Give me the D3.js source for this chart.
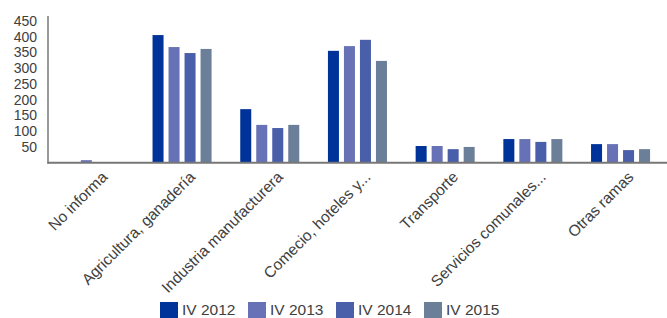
<!DOCTYPE html>
<meta charset="utf-8">
<script src="https://d3js.org/d3.v7.min.js"></script>
<style>
  body { margin: 0; background: #fff; }
  text { font-family: "Liberation Sans", Arial, sans-serif; fill: #404040; }
</style>
<div id="my_dataviz"></div>
<script>
// categories and series
const categories = ["No informa", "Agricultura, ganadería", "Industria manufacturera",
  "Comecio, hoteles y...", "Transporte", "Servicios comunales...", "Otras ramas"];
const seriesNames = ["IV 2012", "IV 2013", "IV 2014", "IV 2015"];
const iv2012 = [0, 405, 170, 355, 53, 75, 59];
const iv2013 = [8, 367, 120, 370, 53, 75, 59];
const iv2014 = [0, 348, 110, 390, 43, 66, 40];
const iv2015 = [0, 361, 120, 323, 50, 75, 43];
const yTicks = [50, 100, 150, 200, 250, 300, 350, 400, 450];
const colors = ["#003399", "#6771b5", "#4a5fa9", "#6b7f99"];

const width = 667, height = 318;
const baseY = 162.7;

const svg = d3.select("#my_dataviz")
  .append("svg")
    .attr("width", width)
    .attr("height", height);

const allSeries = [iv2012, iv2013, iv2014, iv2015];
const data = categories.map((c, i) => ({
  cat: c,
  vals: seriesNames.map((s, j) => ({series: s, idx: j, value: allSeries[j][i]}))
}));

// scales
const x0 = d3.scaleBand()
  .domain(categories)
  .range([50.5, 664.4])
  .paddingInner(0.327)
  .paddingOuter(0.1635);

const x1 = d3.scaleBand()
  .domain(seriesNames)
  .range([0, x0.bandwidth()])
  .paddingInner(0.3125)
  .paddingOuter(0);

const y = d3.scaleLinear()
  .domain([0, 450])
  .range([baseY, 20.9]);

// y axis labels
svg.append("g")
  .attr("transform", "translate(48,0)")
  .style("font-size", "14px")
  .call(d3.axisLeft(y).tickValues(yTicks).tickSize(0).tickPadding(11))
  .call(g => g.select(".domain").remove())
  .selectAll("text")
    .style("fill", "#404040")
    .style("font-family", "'Liberation Sans', Arial, sans-serif");

// bars
svg.append("g")
  .selectAll("g")
  .data(data)
  .join("g")
    .attr("transform", d => `translate(${x0(d.cat)},0)`)
  .selectAll("rect")
  .data(d => d.vals.filter(v => v.value > 0))
  .join("rect")
    .attr("x", d => x1(d.series))
    .attr("y", d => y(d.value))
    .attr("width", x1.bandwidth())
    .attr("height", d => baseY - y(d.value))
    .attr("fill", d => colors[d.idx]);

// axis lines
svg.append("line")
  .attr("x1", 48).attr("x2", 48)
  .attr("y1", 16).attr("y2", baseY + 1)
  .attr("stroke", "#777").attr("stroke-width", 1.5);
svg.append("line")
  .attr("x1", 47.5).attr("x2", width)
  .attr("y1", baseY).attr("y2", baseY)
  .attr("stroke", "#777").attr("stroke-width", 2);

// category labels
svg.append("g")
  .selectAll("text")
  .data(categories)
  .join("text")
    .attr("transform", d => `translate(${x0(d) + x0.bandwidth() / 2 + 14},178) rotate(-45)`)
    .attr("text-anchor", "end")
    .style("font-size", "15.5px")
    .text(d => d);

// legend
const legend = svg.append("g")
  .selectAll("g")
  .data(seriesNames)
  .join("g")
    .attr("transform", (d, i) => `translate(${160 + i * 88},302)`);
legend.append("rect")
  .attr("width", 18).attr("height", 16)
  .attr("fill", (d, i) => colors[i]);
legend.append("text")
  .attr("x", 22).attr("y", 13)
  .style("font-size", "15.5px")
  .text(d => d);
</script>
